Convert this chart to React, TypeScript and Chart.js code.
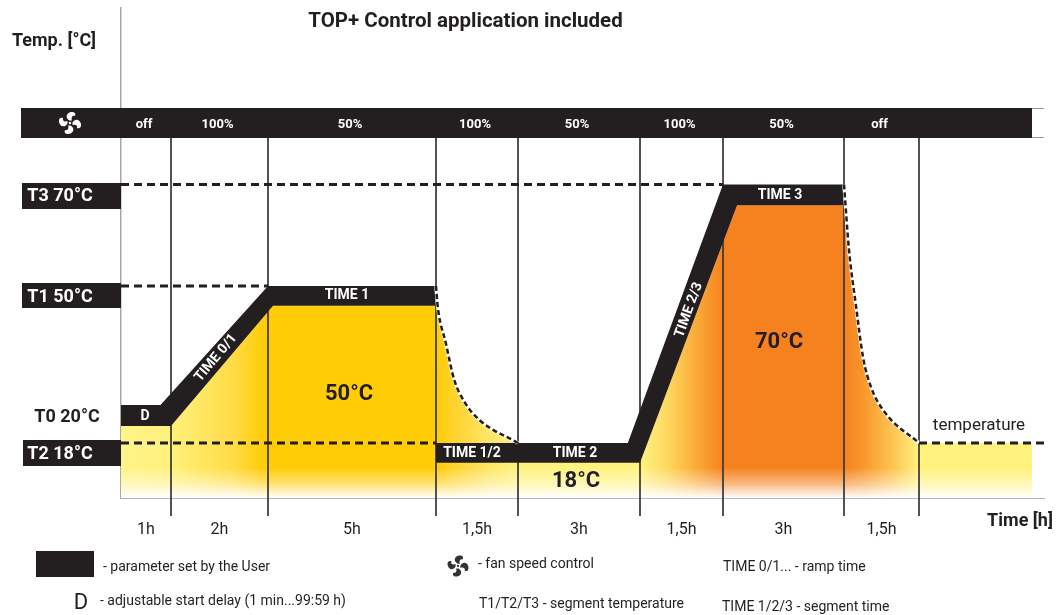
import React, { useEffect, useRef } from "react";
import { Chart, registerables, LinearScale } from "chart.js";

Chart.register(...registerables);

// ---- schematic axes: the reference is not to scale, so each axis is piecewise linear
const hourKnots = [-2, 0, 1, 3, 8, 9.5, 12.5, 14, 17, 18.5, 20.76];
const hourOffsets = [-100, 0, 50, 147, 315, 397, 519, 602, 723, 798, 911];
const tempKnots = [-6, 0, 18, 20, 50, 70, 79, 85, 105];
const tempOffsets = [-18, 0, 55, 93, 212, 313.5, 360, 390, 490];

// ---- data
const segmentHours = [1, 2, 5, 1.5, 3, 1.5, 3, 1.5];
const segmentEnds = [1, 3, 8, 9.5, 12.5, 14, 17, 18.5];
const segmentMids = [0.5, 2, 5.5, 8.75, 11, 13.25, 15.5, 17.75];
const durationLabels = ["1h", "2h", "5h", "1,5h", "3h", "1,5h", "3h", "1,5h"];
const fanLabels = ["off", "100%", "50%", "100%", "50%", "100%", "50%", "off"];
const gridTops = [79, 79, 79, 79, 79, 79, 79, 79];

const guideT3 = [{ x: 0, y: 70 }, { x: 14, y: 70 }];
const guideT1 = [{ x: 0, y: 50 }, { x: 3, y: 50 }];
const guideT2 = [{ x: 0, y: 18 }, { x: 8, y: 18 }];
const guideTail = [{ x: 18.5, y: 18 }, { x: 21, y: 18 }];

const decay1 = [
  { x: 8, y: 50 }, { x: 8.03, y: 45 }, { x: 8.18, y: 35.6 }, { x: 8.33, y: 26.5 },
  { x: 8.52, y: 20.8 }, { x: 8.8, y: 19.2 }, { x: 9.5, y: 18 },
];
const decay2 = [
  { x: 17, y: 70 }, { x: 17.1, y: 57.1 }, { x: 17.24, y: 45 }, { x: 17.38, y: 32.1 },
  { x: 17.54, y: 24.5 }, { x: 17.82, y: 19.6 }, { x: 18.5, y: 18 },
];

const bandTop1 = [{ x: 0, y: 20 }, { x: 0.79, y: 20 }, { x: 3, y: 50 }, { x: 8, y: 50 }];
const bandBottom1 = [{ x: 0, y: 18.9 }, { x: 1, y: 18.9 }, { x: 3.15, y: 45 }, { x: 8, y: 45 }];
const bandTop2 = [{ x: 8, y: 18 }, { x: 12.2, y: 18 }, { x: 14, y: 70 }, { x: 17, y: 70 }];
const bandBottom2 = [{ x: 8, y: 11.5 }, { x: 12.5, y: 11.5 }, { x: 14.35, y: 65.9 }, { x: 17, y: 65.9 }];

const areaProfile = [
  { x: 0, y: 18.9 }, { x: 1, y: 18.9 }, { x: 3.15, y: 45 }, { x: 8, y: 45 },
  { x: 8.03, y: 45 }, { x: 8.18, y: 35.6 }, { x: 8.33, y: 26.5 }, { x: 8.52, y: 20.8 },
  { x: 8.8, y: 19.2 }, { x: 9.5, y: 18 }, { x: 12.5, y: 11.5 }, { x: 14.35, y: 65.9 },
  { x: 17, y: 65.9 }, { x: 17.1, y: 57.1 }, { x: 17.24, y: 45 }, { x: 17.38, y: 32.1 },
  { x: 17.54, y: 24.5 }, { x: 17.82, y: 19.6 }, { x: 18.5, y: 18 }, { x: 20.76, y: 18 },
];
const fadeLine = [{ x: 0, y: 10 }, { x: 20.76, y: 10 }];

const areaStopHours = [0, 1, 1.6, 2.3, 2.9, 8, 8.4, 9, 9.5, 12.5, 13, 13.5, 14, 17, 17.35, 18, 18.5, 20.76];
const areaStopColors = [
  "#fff38a", "#fff17c", "#ffe763", "#ffdb45", "#ffcc05", "#ffcc05", "#ffd534", "#ffe76a", "#fff27f",
  "#fff27f", "#fdd860", "#fbac38", "#f6821f", "#f6821f", "#f8952a", "#fdc654", "#fff27f", "#fff27f",
];

const INK = "#231f20";
const FONT = "Roboto, sans-serif";

function interp(v: number, xs: number[], ys: number[]) {
  let i = 0;
  while (i < xs.length - 2 && v > xs[i + 1]) i++;
  return ys[i] + ((v - xs[i]) * (ys[i + 1] - ys[i])) / (xs[i + 1] - xs[i]);
}

class HourScale extends LinearScale {
  static id = "hourScale";
  static defaults = {};
  getPixelForValue(v: number) {
    return (this as any).left + interp(v, hourKnots, hourOffsets);
  }
  getValueForPixel(p: number) {
    return interp(p - (this as any).left, hourOffsets, hourKnots);
  }
}
class TempScale extends LinearScale {
  static id = "tempScale";
  static defaults = {};
  getPixelForValue(v: number) {
    return (this as any).bottom - interp(v, tempKnots, tempOffsets);
  }
  getValueForPixel(p: number) {
    return interp((this as any).bottom - p, tempOffsets, tempKnots);
  }
}
Chart.register(HourScale as any, TempScale as any);

function text(
  ctx: CanvasRenderingContext2D, s: string, x: number, y: number, font: string,
  color = INK, align: CanvasTextAlign = "center", rot = 0,
) {
  ctx.save();
  ctx.translate(x, y);
  if (rot) ctx.rotate((rot * Math.PI) / 180);
  ctx.font = font;
  ctx.fillStyle = color;
  ctx.textAlign = align;
  ctx.textBaseline = "middle";
  ctx.fillText(s, 0, 0);
  ctx.restore();
}

function fan(ctx: CanvasRenderingContext2D, cx: number, cy: number, k: number, color: string) {
  ctx.save();
  ctx.translate(cx, cy);
  ctx.scale(k, k);
  ctx.fillStyle = color;
  for (let i = 0; i < 4; i++) {
    ctx.beginPath();
    ctx.moveTo(-0.5, -2.5);
    ctx.bezierCurveTo(-5, -5, -4, -10, 1, -11);
    ctx.bezierCurveTo(5, -11.5, 6, -9, 5, -7);
    ctx.bezierCurveTo(2, -8, 1, -5, 2, -2.5);
    ctx.closePath();
    ctx.fill();
    ctx.rotate(Math.PI / 2);
  }
  ctx.beginPath();
  ctx.arc(0, 0, 1.2, 0, Math.PI * 2);
  ctx.fill();
  ctx.restore();
}

const backdrop = {
  id: "backdrop",
  beforeDatasetsDraw(chart: any) {
    const { ctx, scales: { x, y } } = chart;
    ctx.save();
    ctx.fillStyle = INK;
    const barLeft = x.getPixelForValue(-2);
    const barRight = x.getPixelForValue(20.76);
    const barTop = y.getPixelForValue(85);
    const barBottom = y.getPixelForValue(79);
    ctx.fillRect(barLeft, barTop, barRight - barLeft, barBottom - barTop);
    ctx.strokeStyle = "#999";
    ctx.lineWidth = 1;
    ctx.beginPath();
    ctx.moveTo(barRight, barTop + 0.5);
    ctx.lineTo(x.right, barTop + 0.5);
    ctx.moveTo(barRight, barBottom - 0.5);
    ctx.lineTo(x.right, barBottom - 0.5);
    ctx.stroke();
    ctx.fillRect(22, 183, 99, 26);
    ctx.fillRect(22, 283, 99, 25);
    ctx.fillRect(23, 440, 98, 26);
    ctx.fillRect(36, 551, 58, 26);
    ctx.restore();
  },
};

const labels = {
  id: "labels",
  afterDatasetsDraw(chart: any) {
    const { ctx, scales: { x } } = chart;
    const b = (n: number) => `bold ${n}px ${FONT}`;
    const r = (n: number) => `${n}px ${FONT}`;
    text(ctx, "TOP+ Control application included", 465.5, 22, b(20.5));
    text(ctx, "Temp. [°C]", 54, 41, b(18));
    fan(ctx, 70, 123, 1, "#ffffff");
    fanLabels.forEach((l, i) => text(ctx, l, x.getPixelForValue(segmentMids[i]) - 2, 125, b(13), "#ffffff"));
    text(ctx, "T3 70°C", 60, 196, b(18), "#ffffff");
    text(ctx, "T1 50°C", 60, 297, b(18), "#ffffff");
    text(ctx, "T2 18°C", 60, 454, b(18), "#ffffff");
    text(ctx, "T0 20°C", 67, 417, b(18));
    text(ctx, "D", 145, 416, b(14), "#ffffff");
    text(ctx, "TIME 1", 347, 295, b(14), "#ffffff");
    text(ctx, "TIME 1/2", 472, 453, b(14), "#ffffff");
    text(ctx, "TIME 2", 575, 453, b(14), "#ffffff");
    text(ctx, "TIME 3", 780, 195, b(14), "#ffffff");
    text(ctx, "TIME 0/1", 216, 358, b(14), "#ffffff", "center", -50);
    text(ctx, "TIME 2/3", 689, 310, b(14), "#ffffff", "center", -70);
    text(ctx, "50°C", 349, 394, b(22));
    text(ctx, "70°C", 779, 342, b(22));
    text(ctx, "18°C", 576, 481, b(22));
    text(ctx, "temperature", 979, 426, r(17));
    text(ctx, "Time [h]", 1020, 521, b(18));
    text(ctx, "- parameter set by the User", 103, 567, r(14), INK, "left");
    text(ctx, "- fan speed control", 478, 564, r(14), INK, "left");
    text(ctx, "TIME 0/1... - ramp time", 723, 567, r(14), INK, "left");
    text(ctx, "D", 81, 603, r(22));
    text(ctx, "- adjustable start delay (1 min...99:59 h)", 100, 601, r(14), INK, "left");
    text(ctx, "T1/T2/T3 - segment temperature", 479, 604, r(14), INK, "left");
    text(ctx, "TIME 1/2/3 - segment time", 722, 607, r(14), INK, "left");
    fan(ctx, 458, 566, 0.95, "#333333");
  },
};

function areaGradient(c: any) {
  const chart = c.chart;
  if (!chart.chartArea) return "#ffcc05";
  const sx = chart.scales.x;
  const x0 = sx.getPixelForValue(0);
  const x1 = sx.getPixelForValue(20.76);
  const g = chart.ctx.createLinearGradient(x0, 0, x1, 0);
  areaStopHours.forEach((h, i) => g.addColorStop((sx.getPixelForValue(h) - x0) / (x1 - x0), areaStopColors[i]));
  return g;
}
function fadeGradient(c: any) {
  const chart = c.chart;
  if (!chart.chartArea) return "rgba(255,255,255,0)";
  const sy = chart.scales.y;
  const g = chart.ctx.createLinearGradient(0, sy.getPixelForValue(10), 0, sy.getPixelForValue(0));
  g.addColorStop(0, "rgba(255,255,255,0)");
  g.addColorStop(0.55, "rgba(255,255,255,0.45)");
  g.addColorStop(1, "rgba(255,255,255,1)");
  return g;
}

const gridData: any[] = [];
segmentEnds.forEach((h, i) => {
  gridData.push({ x: h, y: gridTops[i] }, { x: h, y: -6 }, { x: h, y: null });
});

const line = { pointRadius: 0, borderWidth: 0, clip: false as any, showLine: true };
const dash = (data: any[], order: number) => ({
  ...line, data, order, borderColor: INK, borderWidth: 3, borderDash: [8, 5],
});
const curve = (data: any[], order: number, color: string, width: number, d: number[]) => ({
  ...line, data, order, borderColor: color, borderWidth: width, borderDash: d, cubicInterpolationMode: "monotone",
});

export default function App() {
  const ref = useRef<HTMLCanvasElement>(null);
  useEffect(() => {
    const chart = new Chart(ref.current as HTMLCanvasElement, {
      type: "line",
      data: {
        datasets: [
          dash(guideT3, 1),
          dash(guideT1, 1),
          dash(guideT2, 1),
          dash(guideTail, 1),
          curve(decay1, 2, INK, 2.5, [5, 3]),
          curve(decay2, 2, INK, 2.5, [5, 3]),
          curve(decay1, 3, "#ffffff", 3.5, []),
          curve(decay2, 3, "#ffffff", 3.5, []),
          { ...line, data: bandTop1, order: 4, fill: "+1", backgroundColor: INK },
          { ...line, data: bandBottom1, order: 4 },
          { ...line, data: bandTop2, order: 4, fill: "+1", backgroundColor: INK },
          { ...line, data: bandBottom2, order: 4 },
          { ...line, data: gridData, order: 5, borderColor: "#3a3a3a", borderWidth: 1, spanGaps: false },
          { ...line, data: fadeLine, order: 6, fill: { target: { value: 0 } }, backgroundColor: fadeGradient },
          { ...line, data: areaProfile, order: 7, fill: { target: { value: 0 } }, backgroundColor: areaGradient },
        ] as any,
      },
      options: {
        responsive: false,
        animation: false,
        events: [],
        layout: { padding: { left: 121, right: 16, top: 8, bottom: 0 } },
        plugins: { legend: { display: false }, tooltip: { enabled: false }, title: { display: false } },
        scales: {
          x: {
            type: "hourScale",
            min: 0,
            max: 21,
            grid: { display: false },
            border: { display: true, color: "#b5b5b5", width: 1 },
            afterFit: (s: any) => { s.height = 117; },
            afterBuildTicks: (s: any) => { s.ticks = segmentMids.map((value) => ({ value })); },
            ticks: {
              autoSkip: false,
              maxRotation: 0,
              padding: 14,
              color: INK,
              font: { family: "Roboto", size: 16 },
              callback: (_v: any, i: number) => durationLabels[i],
            },
          },
          y: {
            type: "tempScale",
            min: 0,
            max: 105,
            grid: { display: false, drawTicks: false },
            border: { display: true, color: "#a8a8a8", width: 1.5 },
            afterFit: (s: any) => { s.width = 0; },
            ticks: { display: false },
          },
        } as any,
      },
      plugins: [backdrop, labels],
    });
    return () => chart.destroy();
  }, []);
  return (
    <div style={{ position: "fixed", left: 0, top: 0, width: 1060, height: 615, background: "#fff" }}>
      <canvas ref={ref} width={1060} height={615} style={{ display: "block" }} />
    </div>
  );
}
